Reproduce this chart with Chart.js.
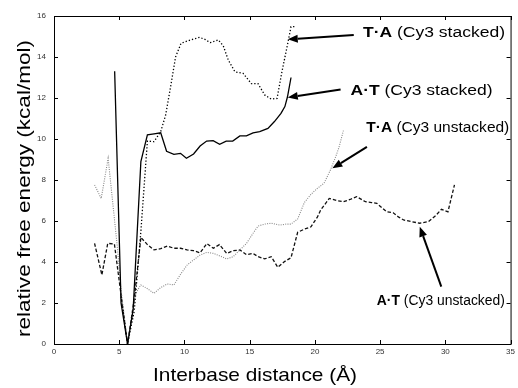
<!DOCTYPE html>
<html>
<head>
<meta charset="utf-8">
<style>
  html, body { margin: 0; padding: 0; background: #fff; }
</style>
<script src="https://cdn.jsdelivr.net/npm/chart.js@4.4.1/dist/chart.umd.min.js"></script>
</head>
<body>
<canvas id="freeEnergy" width="518" height="388"></canvas>
<script>
/* ============================================================
   FREE ENERGY vs INTERBASE DISTANCE
   ============================================================ */

// A·T (Cy3 stacked) - solid
const atStackedX = [4.65, 5.14, 5.64, 6.07, 6.66, 7.16, 7.67, 8.18, 8.63, 9.19, 9.7, 10.15, 10.7, 11.2, 11.7, 12.2, 12.7, 13.2, 13.7, 14.25, 14.75, 15.26, 15.77, 16.4, 16.9, 17.4, 17.7, 17.9, 18.17];
const atStackedY = [13.3, 2.0, 0, 1.7, 8.9, 10.2, 10.25, 10.3, 9.4, 9.25, 9.3, 9.06, 9.27, 9.66, 9.9, 9.92, 9.74, 9.9, 9.9, 10.15, 10.15, 10.3, 10.36, 10.52, 10.85, 11.25, 11.58, 12.06, 13.0];

// T·A (Cy3 stacked) - black dotted
const taStackedX = [5.14, 5.64, 6.15, 6.66, 7.16, 7.67, 8.18, 8.56, 8.94, 9.32, 9.74, 10.45, 11.16, 11.6, 11.97, 12.6, 12.98, 13.36, 13.87, 14.5, 15.13, 15.64, 16.15, 16.65, 17.1, 17.45, 17.92, 18.17, 18.47];
const taStackedY = [2.3, 0, 1.6, 5.5, 9.9, 9.87, 10.36, 11.17, 12.55, 14.0, 14.67, 14.83, 14.96, 14.85, 14.7, 14.83, 14.54, 13.85, 13.28, 13.2, 12.7, 12.7, 12.15, 11.95, 11.98, 13.2, 14.67, 15.48, 15.48];

// T·A (Cy3 unstacked) - grey dotted
const taUnstackedX = [3.11, 3.62, 4.15, 4.88, 5.14, 5.64, 6.28, 6.66, 7.16, 7.67, 8.18, 8.68, 9.19, 9.7, 10.2, 10.7, 11.2, 11.72, 12.22, 12.86, 13.24, 13.74, 14.25, 14.75, 15.26, 15.64, 16.15, 16.65, 17.3, 17.8, 18.17, 18.68, 19.19, 19.7, 20.2, 20.7, 21.2, 21.6, 21.85, 22.2];
const taUnstackedY = [7.76, 7.1, 9.06, 4.58, 2.63, 0, 2.5, 2.88, 2.7, 2.47, 2.75, 2.93, 2.88, 3.4, 3.85, 4.1, 4.34, 4.47, 4.42, 4.26, 4.15, 4.26, 4.59, 4.9, 5.4, 5.75, 5.85, 5.89, 5.8, 5.85, 5.85, 6.1, 6.9, 7.3, 7.6, 7.84, 8.5, 9.14, 9.6, 10.44];

// A·T (Cy3 unstacked) - dashed
const atUnstackedX = [3.11, 3.67, 4.12, 4.63, 5.14, 5.64, 6.15, 6.66, 7.16, 7.67, 8.18, 8.68, 9.19, 9.7, 10.2, 10.7, 11.2, 11.72, 12.22, 12.68, 13.24, 13.74, 14.25, 14.75, 15.26, 15.64, 16.15, 16.65, 17.16, 17.67, 18.17, 18.68, 19.19, 19.7, 20.2, 20.45, 21.1, 21.65, 22.2, 22.7, 23.2, 23.87, 24.35, 24.75, 25.5, 26.0, 26.4, 26.8, 27.4, 28.04, 28.7, 29.3, 29.7, 30.2, 30.7];
const atUnstackedY = [4.91, 3.37, 4.91, 4.88, 2.4, 0, 2.2, 5.2, 4.85, 4.59, 4.65, 4.78, 4.67, 4.67, 4.59, 4.55, 4.45, 4.9, 4.67, 4.85, 4.42, 4.55, 4.59, 4.36, 4.42, 4.26, 4.15, 4.26, 3.74, 4.02, 4.21, 5.45, 5.6, 5.72, 6.2, 6.54, 7.1, 7.0, 6.94, 7.05, 7.19, 6.94, 6.9, 6.86, 6.45, 6.4, 6.2, 6.05, 5.97, 5.89, 5.97, 6.29, 6.57, 6.45, 7.76];

const xTicks = [0, 5, 10, 15, 20, 25, 30, 35];
const yTicks = [0, 2, 4, 6, 8, 10, 12, 14, 16];

// annotation labels: [bold part, rest, x, y (data units, left/baseline)]
const labelTexts = [
  ['T\u00b7A', ' (Cy3 stacked)', 23.69, 14.96],
  ['A\u00b7T', ' (Cy3 stacked)', 22.73, 12.15],
  ['T\u00b7A', ' (Cy3 unstacked)', 23.94, 10.36],
  ['A\u00b7T', ' (Cy3 unstacked)', 24.75, 1.90]
];
const labelWidths = [142, 142, 143, 128];
// arrows: tail x, tail y, head x, head y (data units)
const arrows = [
  [22.98, 15.07, 17.92, 14.86],
  [21.97, 12.42, 17.92, 12.03],
  [23.99, 9.62, 21.34, 8.57],
  [29.69, 2.8, 28.04, 5.72]
];

const FONT = '"Liberation Sans", Arial, Helvetica, sans-serif';

function zip(xs, ys) {
  return xs.map((x, i) => ({ x, y: ys[i] }));
}

function stretchText(ctx, parts, x, y, size, width, angle) {
  ctx.save();
  ctx.translate(x, y);
  if (angle) ctx.rotate(angle);
  let natural = 0;
  parts.forEach(p => {
    ctx.font = (p[1] ? 'bold ' : '') + size + 'px ' + FONT;
    natural += ctx.measureText(p[0]).width;
  });
  ctx.scale(width / natural, 1);
  ctx.fillStyle = '#000';
  ctx.textBaseline = 'alphabetic';
  ctx.textAlign = 'left';
  let cx = 0;
  parts.forEach(p => {
    ctx.font = (p[1] ? 'bold ' : '') + size + 'px ' + FONT;
    ctx.fillText(p[0], cx, 0);
    cx += ctx.measureText(p[0]).width;
  });
  ctx.restore();
}

const framePlugin = {
  id: 'frame',
  afterDraw(chart) {
    const { ctx, chartArea: a, scales: { x, y } } = chart;
    ctx.save();
    ctx.strokeStyle = '#000';
    ctx.lineWidth = 1;
    ctx.strokeRect(a.left + 0.5, a.top + 0.5, a.right - a.left, a.bottom - a.top);
    ctx.beginPath();
    xTicks.forEach(v => {
      const px = Math.round(x.getPixelForValue(v)) + 0.5;
      ctx.moveTo(px, a.bottom); ctx.lineTo(px, a.bottom - 4);
      ctx.moveTo(px, a.top); ctx.lineTo(px, a.top + 4);
    });
    yTicks.forEach(v => {
      const py = Math.round(y.getPixelForValue(v)) + 0.5;
      ctx.moveTo(a.left, py); ctx.lineTo(a.left + 4, py);
      ctx.moveTo(a.right, py); ctx.lineTo(a.right - 4, py);
    });
    ctx.stroke();

    // axis titles
    stretchText(ctx, [['Interbase distance (\u00c5)', false]], 153, 381, 19, 204);
    stretchText(ctx, [['relative free energy (kcal/mol)', false]], 30, 337, 18, 297, -Math.PI / 2);

    // arrows
    ctx.fillStyle = '#000';
    ctx.lineWidth = 2;
    arrows.forEach(r => {
      const x1 = x.getPixelForValue(r[0]), y1 = y.getPixelForValue(r[1]);
      const x2 = x.getPixelForValue(r[2]), y2 = y.getPixelForValue(r[3]);
      const ang = Math.atan2(y2 - y1, x2 - x1);
      const len = 10, half = 4;
      const bx = x2 - len * Math.cos(ang), by = y2 - len * Math.sin(ang);
      ctx.beginPath();
      ctx.moveTo(x1, y1); ctx.lineTo(bx, by);
      ctx.stroke();
      ctx.beginPath();
      ctx.moveTo(x2, y2);
      ctx.lineTo(bx + half * Math.sin(ang), by - half * Math.cos(ang));
      ctx.lineTo(bx - half * Math.sin(ang), by + half * Math.cos(ang));
      ctx.closePath();
      ctx.fill();
    });

    // labels
    labelTexts.forEach((l, i) => {
      stretchText(ctx, [[l[0], true], [l[1], false]], x.getPixelForValue(l[2]), y.getPixelForValue(l[3]), 14, labelWidths[i]);
    });
    ctx.restore();
  }
};

new Chart(document.getElementById('freeEnergy').getContext('2d'), {
  type: 'line',
  data: {
    datasets: [
      { data: zip(atStackedX, atStackedY), borderColor: '#000', borderWidth: 1.3 },
      { data: zip(taStackedX, taStackedY), borderColor: '#000', borderWidth: 1.3, borderDash: [1.3, 2] },
      { data: zip(taUnstackedX, taUnstackedY), borderColor: '#888', borderWidth: 1.1, borderDash: [1, 1.3] },
      { data: zip(atUnstackedX, atUnstackedY), borderColor: '#111', borderWidth: 1.3, borderDash: [3.5, 2] }
    ]
  },
  options: {
    responsive: false,
    animation: false,
    devicePixelRatio: 1,
    layout: { padding: { left: 0, right: 3, top: 16, bottom: 0 } },
    elements: { point: { radius: 0 }, line: { tension: 0, fill: false } },
    plugins: { legend: { display: false }, tooltip: { enabled: false } },
    scales: {
      x: {
        type: 'linear', min: 0, max: 35,
        afterFit: s => { s.height = 44; },
        afterBuildTicks: s => { s.ticks = xTicks.map(v => ({ value: v })); },
        grid: { display: false, drawTicks: false },
        border: { display: false },
        ticks: { padding: 3, color: '#333', font: { family: FONT, size: 8 }, maxRotation: 0 }
      },
      y: {
        type: 'linear', min: 0, max: 16,
        afterFit: s => { s.width = 54; },
        afterBuildTicks: s => { s.ticks = yTicks.map(v => ({ value: v })); },
        grid: { display: false, drawTicks: false },
        border: { display: false },
        ticks: { padding: 8, color: '#333', font: { family: FONT, size: 8 } }
      }
    }
  },
  plugins: [framePlugin]
});
</script>
</body>
</html>
